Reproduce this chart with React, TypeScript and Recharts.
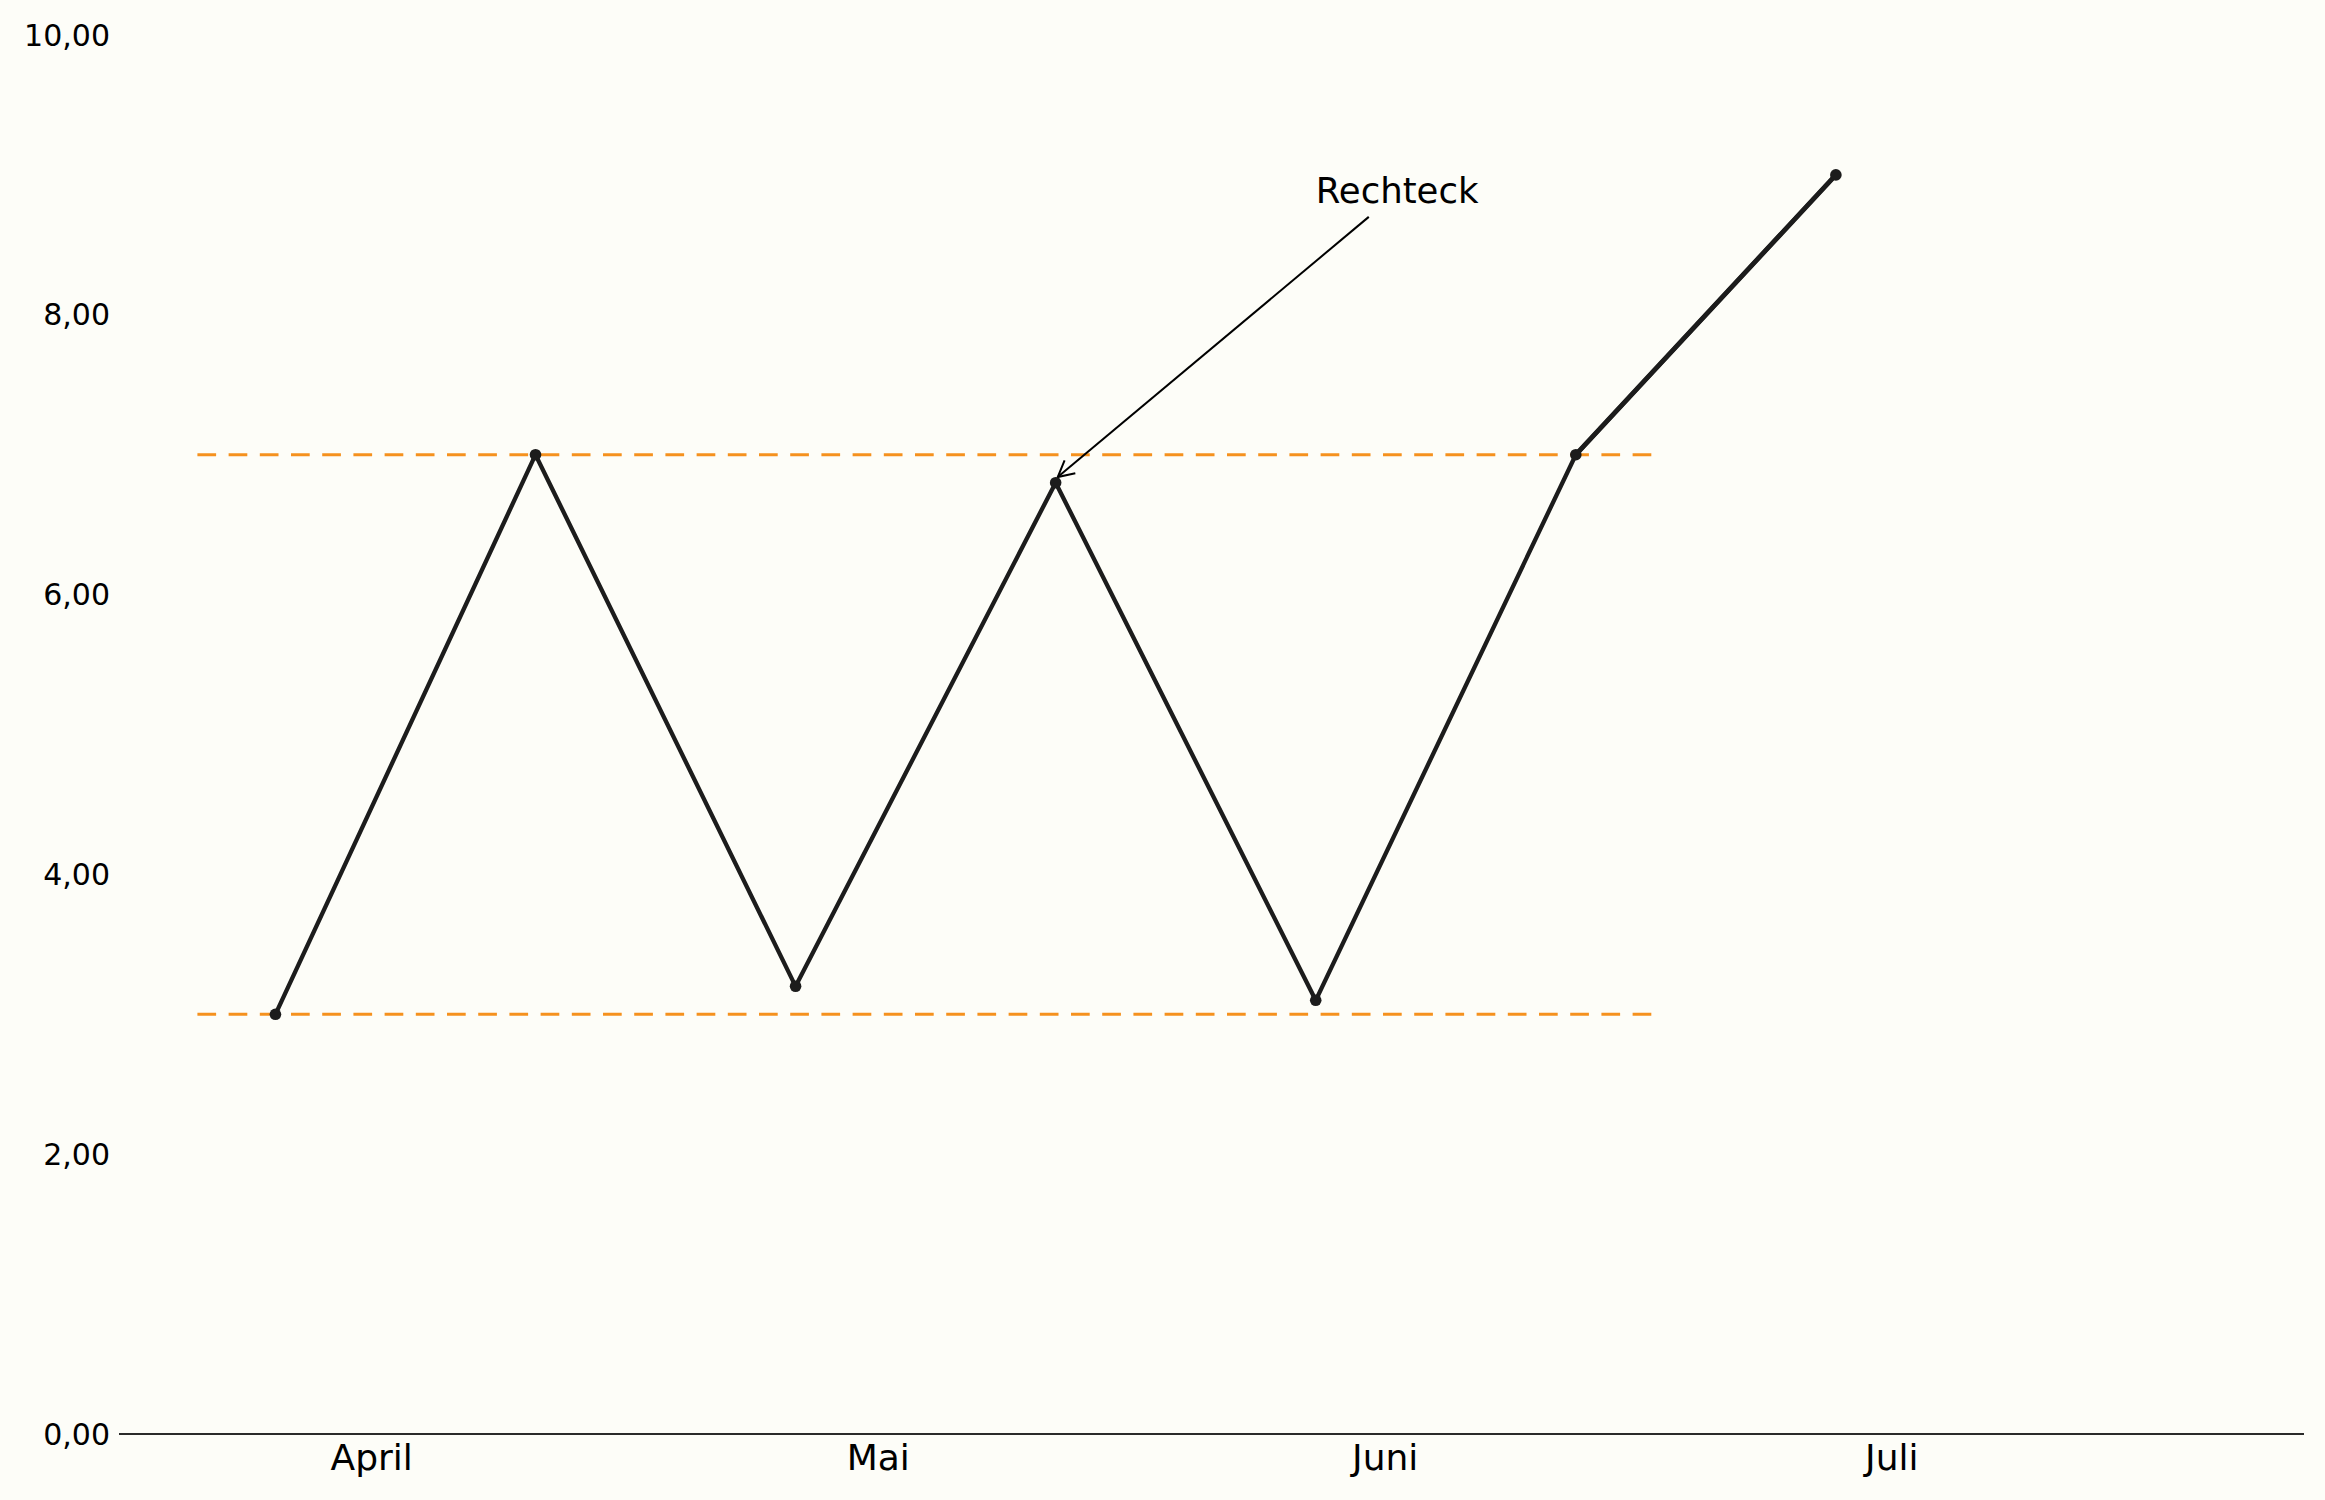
import React from 'react';
import { LineChart, Line, XAxis, YAxis, ReferenceLine, ReferenceDot } from 'recharts';

// ---- data ----
const pointIndex = [0, 1, 2, 3, 4, 5, 6];
const values = [3.0, 7.0, 3.2, 6.8, 3.1, 7.0, 9.0];
const breakoutValues = [null, null, null, null, null, 7.0, 9.0];

const monthTickPos = [0.37, 2.318, 4.267, 6.215];
const monthLabels = ['April', 'Mai', 'Juni', 'Juli'];

const yTicks = [0, 2, 4, 6, 8, 10];

const levelHigh = 7;
const levelLow = 3;
const levelStart = -0.3;
const levelEnd = 5.3;

const annotationText = 'Rechteck';
const annotationTextPos = { x: 4.0, y: 8.8 };
const annotationArrowFrom = { x: 4.204, y: 8.7 };
const annotationArrowTo = { x: 3.008, y: 6.84 };

const data = pointIndex.map((x, i) => ({ x, value: values[i], breakout: breakoutValues[i] }));

const FONT = '"DejaVu Sans", sans-serif';
const LINE_COLOR = '#1c1c1c';
const LEVEL_COLOR = '#f5911e';

const fmtY = (v: number) => v.toFixed(2).replace('.', ',');
const fmtX = (v: number) => {
  const i = monthTickPos.findIndex((p) => Math.abs(p - v) < 1e-6);
  return i >= 0 ? monthLabels[i] : '';
};

const ArrowShape = (props: any) => {
  const { x1, y1, x2, y2 } = props;
  if ([x1, y1, x2, y2].some((v) => typeof v !== 'number' || isNaN(v))) return null;
  const ang = Math.atan2(y2 - y1, x2 - x1);
  const len = 18;
  const spread = Math.PI / 6.5;
  const a1 = ang + Math.PI - spread;
  const a2 = ang + Math.PI + spread;
  const p1 = `${x2 + len * Math.cos(a1)},${y2 + len * Math.sin(a1)}`;
  const p2 = `${x2 + len * Math.cos(a2)},${y2 + len * Math.sin(a2)}`;
  return (
    <g>
      <line x1={x1} y1={y1} x2={x2} y2={y2} stroke="#000" strokeWidth={2} />
      <polyline points={`${p1} ${x2},${y2} ${p2}`} fill="none" stroke="#000" strokeWidth={2} />
    </g>
  );
};

const TextShape = (props: any) => {
  const { cx, cy } = props;
  if (typeof cx !== 'number' || typeof cy !== 'number') return null;
  return (
    <text x={cx} y={cy} fontSize={35.5} fontFamily={FONT} fill="#000">
      {annotationText}
    </text>
  );
};

export default function App() {
  return (
    <div style={{ position: 'absolute', left: 0, top: 0, width: 2325, height: 1500, background: '#fdfdf8' }}>
      <LineChart
        width={2325}
        height={1500}
        data={data}
        margin={{ top: 35, right: 21, bottom: 0, left: 0 }}
      >
        <XAxis
          dataKey="x"
          type="number"
          domain={[-0.6015, 7.8]}
          ticks={monthTickPos}
          tickFormatter={fmtX}
          interval={0}
          allowDataOverflow
          height={66}
          axisLine={{ stroke: '#2a2a2a', strokeWidth: 2 }}
          tickLine={false}
          tickSize={0}
          tickMargin={10}
          tick={{ fontSize: 36, fontFamily: FONT, fill: '#000' }}
        />
        <YAxis
          type="number"
          domain={[0, 10]}
          ticks={yTicks}
          tickFormatter={fmtY}
          interval={0}
          width={119}
          axisLine={false}
          tickLine={false}
          tickSize={0}
          tickMargin={9}
          tick={{ fontSize: 30, fontFamily: FONT, fill: '#000' }}
        />
        <ReferenceLine
          segment={[{ x: levelStart, y: levelHigh }, { x: levelEnd, y: levelHigh }]}
          stroke={LEVEL_COLOR}
          strokeWidth={3}
          strokeDasharray="18.7 12.5"
        />
        <ReferenceLine
          segment={[{ x: levelStart, y: levelLow }, { x: levelEnd, y: levelLow }]}
          stroke={LEVEL_COLOR}
          strokeWidth={3}
          strokeDasharray="18.7 12.5"
        />
        <Line
          type="linear"
          dataKey="value"
          stroke={LINE_COLOR}
          strokeWidth={4.3}
          dot={{ r: 5.8, fill: LINE_COLOR, stroke: 'none' }}
          activeDot={false}
          isAnimationActive={false}
        />
        <Line
          type="linear"
          dataKey="breakout"
          stroke={LINE_COLOR}
          strokeWidth={4.8}
          dot={false}
          activeDot={false}
          connectNulls={false}
          isAnimationActive={false}
        />
        <ReferenceLine
          segment={[annotationArrowFrom, annotationArrowTo]}
          shape={ArrowShape}
          ifOverflow="visible"
        />
        <ReferenceDot
          x={annotationTextPos.x}
          y={annotationTextPos.y}
          r={1}
          shape={TextShape}
          ifOverflow="visible"
        />
      </LineChart>
    </div>
  );
}
